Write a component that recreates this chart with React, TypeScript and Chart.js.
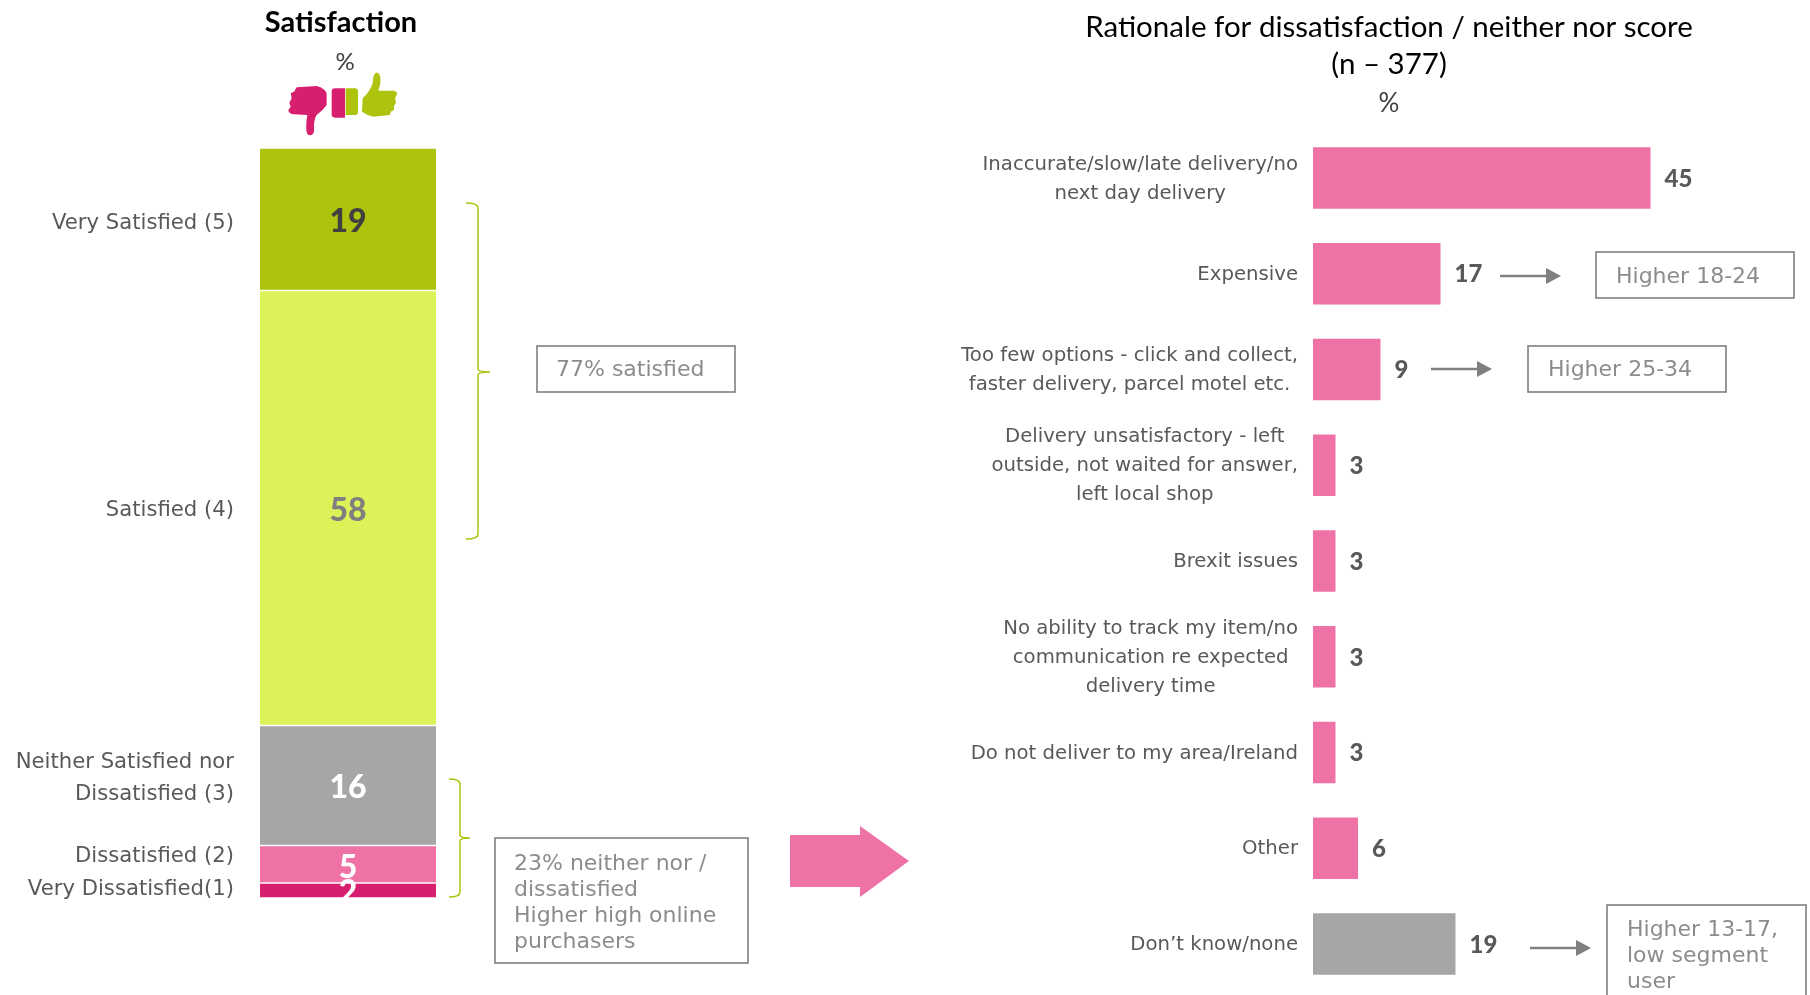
import React, { useEffect, useRef } from "react";
import { Chart, registerables } from "chart.js";

Chart.register(...registerables);

// Satisfaction stack, drawn bottom to top
const satisfactionLabels = ["Very Dissatisfied(1)", "Dissatisfied (2)", "Neither Satisfied nor|Dissatisfied (3)", "Satisfied (4)", "Very Satisfied (5)"];
const satisfactionValues = [2, 5, 16, 58, 19];
const satisfactionColors = ["#D81E6E", "#EF72A7", "#A6A6A6", "#DDF258", "#AEC30D"];
const satisfactionValueColors = ["#FFFFFF", "#FFFFFF", "#FFFFFF", "#7F7F7F", "#404040"];

// Reasons for dissatisfaction
const reasonLabels = [
  ["Inaccurate/slow/late delivery/no", "next day delivery"],
  ["Expensive"],
  ["Too few options - click and collect,", "faster delivery, parcel motel etc."],
  ["Delivery unsatisfactory - left", "outside, not waited for answer,", "left local shop"],
  ["Brexit issues"],
  ["No ability to track my item/no", "communication re expected", "delivery time"],
  ["Do not deliver to my area/Ireland"],
  ["Other"],
  ["Don\u2019t know/none"],
];
const reasonValues = [45, 17, 9, 3, 3, 3, 3, 6, 19];
const reasonColors = ["#EF72A7", "#EF72A7", "#EF72A7", "#EF72A7", "#EF72A7", "#EF72A7", "#EF72A7", "#EF72A7", "#A6A6A6"];

const BODY = '"DejaVu Sans", Verdana, sans-serif';
const HEAD = 'Lato, "Open Sans", sans-serif';
const TEXT = "#595959";
const NOTE = "#8C8C8C";
const EDGE = "#7F7F7F";
const PINK = "#EF72A7";
const GREEN = "#AEC30D";
const MAGENTA = "#D81E6E";

type Ctx = CanvasRenderingContext2D;

function put(ctx: Ctx, text: string, x: number, y: number, font: string, color: string, align: CanvasTextAlign = "center") {
  ctx.font = font;
  ctx.fillStyle = color;
  ctx.textAlign = align;
  ctx.textBaseline = "middle";
  ctx.fillText(text, x, y);
}

function noteBox(ctx: Ctx, x0: number, y0: number, x1: number, y1: number, lines: string[], textX: number, firstY: number, pitch: number) {
  ctx.strokeStyle = EDGE;
  ctx.lineWidth = 1.6;
  ctx.strokeRect(x0, y0, x1 - x0, y1 - y0);
  lines.forEach((l, i) => put(ctx, l, textX, firstY + i * pitch, `22px ${BODY}`, NOTE, "left"));
}

function thinArrow(ctx: Ctx, x0: number, x1: number, y: number) {
  ctx.strokeStyle = EDGE;
  ctx.fillStyle = EDGE;
  ctx.lineWidth = 2.5;
  ctx.beginPath();
  ctx.moveTo(x0, y);
  ctx.lineTo(x1 - 12, y);
  ctx.stroke();
  ctx.beginPath();
  ctx.moveTo(x1 - 15, y - 8);
  ctx.lineTo(x1, y);
  ctx.lineTo(x1 - 15, y + 8);
  ctx.closePath();
  ctx.fill();
}

function bracket(ctx: Ctx, x0: number, xm: number, xt: number, y0: number, ym: number, y1: number) {
  ctx.strokeStyle = GREEN;
  ctx.lineWidth = 1.5;
  ctx.beginPath();
  ctx.moveTo(x0, y0);
  ctx.quadraticCurveTo(xm, y0, xm, y0 + 5);
  ctx.lineTo(xm, ym - 3);
  ctx.quadraticCurveTo(xm, ym, xt, ym);
  ctx.quadraticCurveTo(xm, ym, xm, ym + 3);
  ctx.lineTo(xm, y1 - 5);
  ctx.quadraticCurveTo(xm, y1, x0, y1);
  ctx.stroke();
}

function thumbs(ctx: Ctx) {
  ctx.save();
  ctx.translate(270, 60);
  ctx.scale(1 / 3, 1 / 3);
  ctx.fillStyle = MAGENTA;
  ctx.fill(new Path2D("M80 82 L140 78 Q165 85 170 100 L170 135 Q160 150 140 165 Q130 180 132 215 Q125 232 112 222 Q105 205 112 165 L70 163 Q55 160 55 150 L62 140 L58 128 L65 115 L62 100 L72 95 Z"));
  ctx.fill(new Path2D("M195 85 L225 85 L225 173 L195 173 Q185 173 185 163 L185 95 Q185 85 195 85 Z"));
  ctx.fillStyle = GREEN;
  ctx.fill(new Path2D("M227 85 L254 85 Q264 85 264 95 L264 155 Q264 165 254 165 L227 165 Z"));
  ctx.fill(new Path2D("M278 115 Q300 95 308 70 Q310 35 322 38 Q335 42 330 75 L325 92 L372 92 Q384 95 380 105 L375 115 L378 128 L372 138 L372 150 L362 155 L360 165 L310 170 Q290 165 276 155 Z"));
  ctx.restore();
}

// Labels, callouts and header for the satisfaction column
const satisfactionDecor = {
  id: "satisfactionDecor",
  afterDatasetsDraw(chart: any) {
    const { ctx, chartArea, scales } = chart;
    const cx = (chartArea.left + chartArea.right) / 2;
    const labelNudge = [-1, -8, -7, 2, 4];
    const valueNudge = [2, 3, 2, 3, 2];
    const starts = satisfactionValues.map((_, i) => satisfactionValues.slice(0, i).reduce((a, b) => a + b, 0));
    // Value text goes top to bottom, so the small lower figures sit over the larger ones
    for (let i = satisfactionValues.length - 1; i >= 0; i--) {
      const v = satisfactionValues[i];
      const mid = scales.y.getPixelForValue(starts[i] + v / 2);
      put(ctx, String(v), cx, mid + valueNudge[i], `900 32px ${HEAD}`, satisfactionValueColors[i]);
      const lines = satisfactionLabels[i].split("|");
      lines.forEach((l, k) => {
        const y = mid + labelNudge[i] + (k - (lines.length - 1) / 2) * 32;
        put(ctx, l, 234, y, `21.2px ${BODY}`, TEXT, "right");
      });
    }

    put(ctx, "Satisfaction", 341, 23, `bold 29px ${HEAD}`, "#000000");
    put(ctx, "%", 345, 62, `24px ${HEAD}`, "#404040");
    thumbs(ctx);

    bracket(ctx, 466, 478, 490, 203, 372, 539);
    bracket(ctx, 449, 460, 470, 779, 838, 897);
    noteBox(ctx, 537, 346, 735, 392, ["77% satisfied"], 556, 370, 0);
    noteBox(ctx, 495, 838, 748, 963, ["23% neither nor /", "dissatisfied", "Higher high online", "purchasers"], 514, 864, 26);

    ctx.fillStyle = PINK;
    ctx.beginPath();
    ctx.moveTo(790, 835);
    ctx.lineTo(860, 835);
    ctx.lineTo(860, 826);
    ctx.lineTo(909, 861);
    ctx.lineTo(860, 897);
    ctx.lineTo(860, 887);
    ctx.lineTo(790, 887);
    ctx.closePath();
    ctx.fill();
  },
};

// Labels, callouts and header for the reasons panel
const reasonDecor = {
  id: "reasonDecor",
  afterDatasetsDraw(chart: any) {
    const { ctx, scales } = chart;
    reasonValues.forEach((v, i) => {
      const y = scales.y.getPixelForValue(i);
      put(ctx, String(v), scales.x.getPixelForValue(v) + 14, y + 1, `900 24px ${HEAD}`, TEXT, "left");
      const lines = reasonLabels[i];
      ctx.font = `19.7px ${BODY}`;
      const widest = Math.max(...lines.map((l) => ctx.measureText(l).width));
      lines.forEach((l, k) => {
        put(ctx, l, 1298 - widest / 2, y + 1 + (k - (lines.length - 1) / 2) * 29, `19.7px ${BODY}`, TEXT);
      });
    });

    put(ctx, "Rationale for dissatisfaction / neither nor score", 1389, 27, `29.5px ${HEAD}`, "#000000");
    put(ctx, "(n \u2013 377)", 1389, 64, `29.5px ${HEAD}`, "#000000");
    put(ctx, "%", 1389, 104, `26px ${HEAD}`, "#404040");

    thinArrow(ctx, 1500, 1561, 276);
    noteBox(ctx, 1596, 252, 1794, 298, ["Higher 18-24"], 1616, 277, 0);
    thinArrow(ctx, 1431, 1492, 369);
    noteBox(ctx, 1528, 346, 1726, 392, ["Higher 25-34"], 1548, 370, 0);
    thinArrow(ctx, 1530, 1591, 948);
    noteBox(ctx, 1607, 905, 1806, 1010, ["Higher 13-17,", "low segment", "user"], 1627, 930, 26);
  },
};

const canvasStyle: React.CSSProperties = { position: "absolute", left: 0, top: 0, display: "block" };
const SIZE = { w: 1810, h: 995 };

export default function App() {
  const leftRef = useRef<HTMLCanvasElement>(null);
  const rightRef = useRef<HTMLCanvasElement>(null);

  useEffect(() => {
    const left = new Chart(leftRef.current!, {
      type: "bar",
      data: {
        labels: ["Satisfaction"],
        datasets: satisfactionValues.map((v, i) => ({
          label: satisfactionLabels[i].replace("|", " "),
          data: [v],
          backgroundColor: satisfactionColors[i],
          borderColor: "#FFFFFF",
          borderWidth: { top: 1, bottom: 1, left: 0, right: 0 },
          borderSkipped: false,
          barPercentage: 1,
          categoryPercentage: 1,
        })),
      },
      options: {
        responsive: false,
        animation: false,
        layout: { padding: { left: 260, right: SIZE.w - 436, top: 148, bottom: SIZE.h - 898 } },
        plugins: { legend: { display: false }, tooltip: { enabled: false } },
        scales: {
          x: { stacked: true, display: false },
          y: { stacked: true, display: false, min: 0, max: 100 },
        },
      },
      plugins: [satisfactionDecor],
    } as any);

    const right = new Chart(rightRef.current!, {
      type: "bar",
      data: {
        labels: reasonLabels.map((l) => l.join(" ")),
        datasets: [
          {
            label: "Rationale",
            data: reasonValues,
            backgroundColor: reasonColors,
            barPercentage: 0.642,
            categoryPercentage: 1,
          },
        ],
      },
      options: {
        indexAxis: "y",
        responsive: false,
        animation: false,
        layout: { padding: { left: 1313, right: SIZE.w - 1763, top: 130, bottom: SIZE.h - 992 } },
        plugins: { legend: { display: false }, tooltip: { enabled: false } },
        scales: {
          x: { display: false, min: 0, max: 60 },
          y: { display: false },
        },
      },
      plugins: [reasonDecor],
    } as any);

    return () => {
      left.destroy();
      right.destroy();
    };
  }, []);

  return (
    <div style={{ position: "absolute", left: 0, top: 0, width: SIZE.w, height: SIZE.h, overflow: "hidden", background: "#FFFFFF" }}>
      <canvas ref={leftRef} width={SIZE.w} height={SIZE.h} style={canvasStyle} />
      <canvas ref={rightRef} width={SIZE.w} height={SIZE.h} style={canvasStyle} />
    </div>
  );
}
